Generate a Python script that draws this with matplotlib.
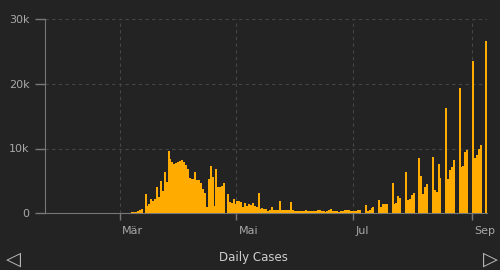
import numpy as np
import pandas as pd
import matplotlib
matplotlib.use('Agg')
import matplotlib.pyplot as plt
import matplotlib.transforms as mtrans

# Daily new cases, one value per day from 22 Jan 2020
jan = [0] * 10
feb = [0] * 9 + [1] + [0] * 7 + [1] + [0] * 7 + [4, 7, 10, 17, 13]
mar = [50, 36, 45, 57, 40, 140, 150, 170, 300, 470, 620, 0, 2950, 1150, 1450, 2100,
       1850, 2150, 4000, 2450, 4950, 3350, 6400, 4750, 9600, 8300, 7950, 7600, 7700,
       7900, 8100]
apr = [8200, 7950, 7450, 6900, 5400, 5200, 5250, 6300, 5100, 5050, 4600, 3800, 3100,
       1000, 5200, 7300, 5600, 1100, 6900, 4100, 4100, 4200, 4600, 0, 2900, 1750, 1500,
       2100, 1400, 1900]
may = [1800, 1700, 900, 1500, 1100, 1400, 1300, 1500, 1100, 900, 3150, 650, 730, 650,
       700, 250, 450, 1000, 470, 480, 470, 1850, 470, 400, 450, 400, 450, 1700, 450,
       250, 350]
jun = [250, 300, 320, 350, 400, 380, 250, 300, 260, 320, 430, 500, 350, 300, 180, 300,
       400, 580, 360, 300, 320, 170, 330, 340, 400, 450, 500, 300, 250, 380]
jul = [350, 400, 450, 0, 0, 1250, 330, 460, 780, 930, 0, 0, 2000, 900, 1350, 1400,
       1450, 0, 0, 4650, 1350, 1550, 2600, 2300, 0, 0, 6350, 2000, 2100, 2800, 3100]
aug = [0, 0, 8500, 5700, 3000, 4100, 4500, 0, 0, 8700, 3550, 3300, 7600, 5500, 0, 0,
       16300, 5200, 6650, 7200, 8200, 0, 0, 19400, 7200, 7300, 9500, 9750, 0, 0, 23600]
sep = [8500, 9000, 10000, 10500, 0, 0, 26700]

cases = jan + feb + mar + apr + may + jun + jul + aug + sep
dates = pd.date_range('2020-01-22', periods=len(cases))

month_ticks = ['2020-03-01', '2020-05-01', '2020-07-01', '2020-09-01']
month_labels = ['Mär', 'Mai', 'Jul', 'Sep']
y_ticks = [0, 10000, 20000, 30000]
y_labels = ['0', '10k', '20k', '30k']

bg = '#232323'
bar_col = '#ffab00'
txt_col = '#a8a8a8'

fig = plt.figure(figsize=(5, 2.7), dpi=100, facecolor=bg)
ax = fig.add_axes([0.09, 0.211, 0.884, 0.717], facecolor=bg)

# bars slightly wider than a day so neighbours merge like in the original
ax.bar(dates, cases, width=1.05, align='edge', color=bar_col,
       edgecolor='none', linewidth=0, zorder=3)

ax.set_ylim(0, 30000)
ax.set_xlim(pd.Timestamp('2020-01-22'), pd.Timestamp('2020-09-08 20:00'))

ax.set_yticks(y_ticks)
ax.set_yticklabels(y_labels)
xt = [pd.Timestamp(t) for t in month_ticks]
ax.set_xticks(xt)
ax.set_xticklabels(month_labels, ha='left')

ax.tick_params(axis='y', colors='#777777', labelcolor=txt_col, length=7, width=1,
               labelsize=8, pad=4)
ax.tick_params(axis='x', colors='#777777', labelcolor=txt_col, length=5, width=1,
               labelsize=8, pad=4)

# nudge month labels a bit right of their ticks
shift = mtrans.ScaledTranslation(2 / 100, 0, fig.dpi_scale_trans)
for lab in ax.get_xticklabels():
    lab.set_transform(lab.get_transform() + shift)

ax.grid(True, color='#464646', linestyle=(0, (3, 3)), linewidth=0.8, zorder=0)
for s in ['top', 'right']:
    ax.spines[s].set_visible(False)
ax.spines['left'].set_color('#777777')
ax.spines['bottom'].set_color('#777777')
ax.spines['bottom'].set_zorder(2)

fig.text(0.506, 0.045, 'Daily Cases', color='#cfcfcf', fontsize=8.5,
         ha='center', va='center')
fig.text(0.026, 0.04, '◁', color='#bbbbbb', fontsize=14, ha='center', va='center')
fig.text(0.98, 0.04, '▷', color='#bbbbbb', fontsize=14, ha='center', va='center')

fig.savefig('out.png', dpi=100, facecolor=bg)
